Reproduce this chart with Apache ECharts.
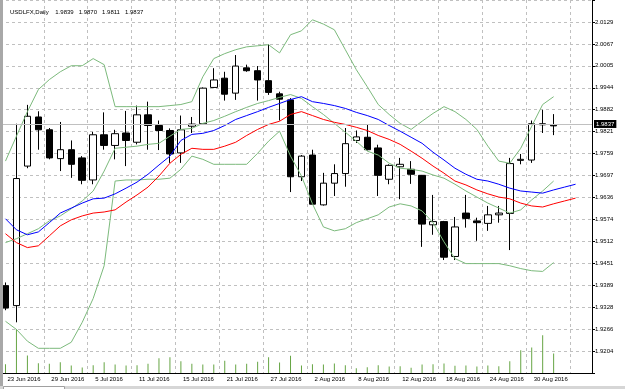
<!DOCTYPE html>
<html>
<head>
<meta charset="utf-8">
<script src="https://cdn.jsdelivr.net/npm/echarts@6/dist/echarts.min.js"></script>
<style>
  html, body { margin: 0; padding: 0; background: #fff; }
  #chart { width: 625px; height: 389px; }
</style>
</head>
<body>
<div id="chart"></div>
<script>
// USDLFX daily, 23 Jun 2016 - 1 Sep 2016 (last three dates are empty chart shift)
const symbol = "USDLFX,Daily";
const dates = [
  "23 Jun 2016", "24 Jun 2016", "27 Jun 2016", "28 Jun 2016", "29 Jun 2016", "30 Jun 2016",
  "1 Jul 2016", "4 Jul 2016", "5 Jul 2016", "6 Jul 2016", "7 Jul 2016", "8 Jul 2016",
  "11 Jul 2016", "12 Jul 2016", "13 Jul 2016", "14 Jul 2016", "15 Jul 2016", "18 Jul 2016",
  "19 Jul 2016", "20 Jul 2016", "21 Jul 2016", "22 Jul 2016", "25 Jul 2016", "26 Jul 2016",
  "27 Jul 2016", "28 Jul 2016", "29 Jul 2016", "1 Aug 2016", "2 Aug 2016", "3 Aug 2016",
  "4 Aug 2016", "5 Aug 2016", "8 Aug 2016", "9 Aug 2016", "10 Aug 2016", "11 Aug 2016",
  "12 Aug 2016", "15 Aug 2016", "16 Aug 2016", "17 Aug 2016", "18 Aug 2016", "19 Aug 2016",
  "22 Aug 2016", "23 Aug 2016", "24 Aug 2016", "25 Aug 2016", "26 Aug 2016", "29 Aug 2016",
  "30 Aug 2016", "31 Aug 2016", "1 Sep 2016", "2 Sep 2016", "5 Sep 2016", "6 Sep 2016"
];
const open = [1.9388, 1.9332, 1.9724, 1.9862, 1.9826, 1.9745, 1.9770, 1.9747, 1.9685, 1.9812,
  1.9782, 1.9817, 1.9791, 1.9868, 1.9838, 1.9824, 1.9761, 1.9836, 1.9843, 1.9945,
  1.9971, 1.9929, 2.0000, 1.9992, 1.9964, 1.9927, 1.9910, 1.9694, 1.9755, 1.9615,
  1.9676, 1.9703, 1.9796, 1.9805, 1.9775, 1.9687, 1.9722, 1.9715, 1.9698, 1.9559,
  1.9568, 1.9470, 1.9592, 1.9570, 1.9563, 1.9587, 1.9591, 1.9740, 1.9741, 1.9840, 1.9839];
const high = [1.9397, 1.9843, 1.9896, 1.9878, 1.9831, 1.9848, 1.9796, 1.9752, 1.9820, 1.9875,
  1.9826, 1.9879, 1.9894, 1.9905, 1.9852, 1.9830, 1.9866, 1.9862, 1.9945, 1.9999,
  1.9989, 2.0036, 2.0009, 2.0005, 2.0066, 1.9933, 1.9915, 1.9755, 1.9770, 1.9705,
  1.9729, 1.9831, 1.9824, 1.9841, 1.9784, 1.9729, 1.9747, 1.9738, 1.9699, 1.9643,
  1.9570, 1.9581, 1.9643, 1.9579, 1.9612, 1.9612, 1.9747, 1.9758, 1.9852, 1.9882, 1.9870];
const low = [1.9319, 1.9285, 1.9718, 1.9770, 1.9743, 1.9710, 1.9691, 1.9673, 1.9673, 1.9770,
  1.9743, 1.9724, 1.9785, 1.9770, 1.9769, 1.9733, 1.9733, 1.9817, 1.9841, 1.9943,
  1.9908, 1.9910, 1.9989, 1.9908, 1.9924, 1.9852, 1.9651, 1.9682, 1.9615, 1.9613,
  1.9640, 1.9666, 1.9789, 1.9768, 1.9640, 1.9673, 1.9631, 1.9674, 1.9497, 1.9531,
  1.9460, 1.9460, 1.9551, 1.9514, 1.9542, 1.9565, 1.9488, 1.9729, 1.9733, 1.9817, 1.9811];
const close = [1.9325, 1.9689, 1.9864, 1.9826, 1.9747, 1.9770, 1.9729, 1.9684, 1.9812, 1.9782,
  1.9815, 1.9796, 1.9868, 1.9838, 1.9824, 1.9758, 1.9826, 1.9842, 1.9943, 1.9966,
  1.9926, 2.0005, 1.9992, 1.9966, 1.9931, 1.9912, 1.9694, 1.9752, 1.9617, 1.9676,
  1.9703, 1.9787, 1.9806, 1.9770, 1.9698, 1.9726, 1.9729, 1.9701, 1.9561, 1.9568,
  1.9468, 1.9553, 1.9577, 1.9565, 1.9587, 1.9592, 1.9731, 1.9743, 1.9843, 1.9843, 1.9837];
const volume = [90, 444, 177, 100, 94, 110, 77, 57, 80, 110,
  87, 77, 80, 94, 150, 160, 120, 94, 87, 87,
  124, 87, 94, 114, 160, 107, 174, 77, 90, 87,
  97, 80, 50, 60, 80, 67, 70, 54, 87, 90,
  97, 74, 77, 67, 77, 70, 120, 230, 257, 380, 197];
const maBlue = [1.9576, 1.9545, 1.9531, 1.9539, 1.9565, 1.9592, 1.9606, 1.9620, 1.9632, 1.9634,
  1.9646, 1.9662, 1.9679, 1.9701, 1.9727, 1.9752, 1.9796, 1.9813, 1.9816, 1.9824,
  1.9838, 1.9855, 1.9866, 1.9877, 1.9889, 1.9900, 1.9911, 1.9919, 1.9905, 1.9900,
  1.9894, 1.9886, 1.9875, 1.9866, 1.9855, 1.9838, 1.9822, 1.9805, 1.9788, 1.9763,
  1.9741, 1.9718, 1.9701, 1.9687, 1.9682, 1.9673, 1.9662, 1.9654, 1.9651, 1.9648,
  1.9657, 1.9665, 1.9673];
const maRed = [1.9534, 1.9509, 1.9495, 1.9500, 1.9528, 1.9556, 1.9573, 1.9584, 1.9592, 1.9595,
  1.9601, 1.9623, 1.9643, 1.9665, 1.9696, 1.9732, 1.9757, 1.9774, 1.9771, 1.9771,
  1.9780, 1.9791, 1.9810, 1.9827, 1.9841, 1.9850, 1.9869, 1.9877, 1.9866, 1.9855,
  1.9847, 1.9841, 1.9833, 1.9824, 1.9810, 1.9799, 1.9785, 1.9766, 1.9746, 1.9724,
  1.9704, 1.9682, 1.9671, 1.9657, 1.9646, 1.9637, 1.9632, 1.9620, 1.9612, 1.9609,
  1.9618, 1.9626, 1.9634];
const bbUpper = [1.9738, 1.9808, 1.9877, 1.9939, 1.9967, 1.9989, 2.0006, 2.0006, 2.0026, 2.0009,
  1.9891, 1.9891, 1.9891, 1.9891, 1.9891, 1.9894, 1.9897, 1.9905, 1.9975, 2.0026,
  2.0040, 2.0051, 2.0059, 2.0062, 2.0065, 2.0042, 2.0093, 2.0104, 2.0135, 2.0123,
  2.0107, 2.0051, 1.9995, 1.9947, 1.9897, 1.9869, 1.9844, 1.9827, 1.9850, 1.9872,
  1.9891, 1.9877, 1.9855, 1.9827, 1.9780, 1.9738, 1.9732, 1.9774, 1.9836, 1.9897, 1.9919];
const bbMiddle = [1.9509, 1.9520, 1.9534, 1.9548, 1.9570, 1.9584, 1.9604, 1.9626, 1.9654, 1.9710,
  1.9774, 1.9777, 1.9780, 1.9785, 1.9788, 1.9808, 1.9827, 1.9830, 1.9844, 1.9852,
  1.9864, 1.9877, 1.9889, 1.9900, 1.9908, 1.9917, 1.9925, 1.9914, 1.9891, 1.9869,
  1.9844, 1.9819, 1.9794, 1.9766, 1.9755, 1.9732, 1.9718, 1.9715, 1.9710, 1.9699,
  1.9690, 1.9673, 1.9654, 1.9637, 1.9620, 1.9606, 1.9592, 1.9601, 1.9629, 1.9654, 1.9682];
const bbLower = [1.9288, 1.9265, 1.9232, 1.9212, 1.9212, 1.9212, 1.9229, 1.9285, 1.9352, 1.9444,
  1.9682, 1.9685, 1.9685, 1.9687, 1.9687, 1.9690, 1.9715, 1.9752, 1.9743, 1.9729,
  1.9729, 1.9729, 1.9729, 1.9760, 1.9794, 1.9822, 1.9752, 1.9696, 1.9618, 1.9553,
  1.9542, 1.9548, 1.9565, 1.9576, 1.9587, 1.9609, 1.9618, 1.9612, 1.9598, 1.9565,
  1.9511, 1.9464, 1.9450, 1.9450, 1.9450, 1.9450, 1.9444, 1.9436, 1.9430, 1.9428, 1.9453];
const yLabels = ["1.9204", "1.9266", "1.9328", "1.9389", "1.9451", "1.9512", "1.9574", "1.9636",
  "1.9697", "1.9759", "1.9821", "1.9882", "1.9944", "2.0005", "2.0067", "2.0129"];
const lastPrice = close[close.length - 1];

// price grid step of the terminal; the axis starts one step below the first label
const step = (2.0129 - 1.9204) / 15;
const base = 1.9204 - step;
const shift = v => (v == null ? null : +(v - base).toFixed(6));
const font = "Liberation Sans";
const gridColor = "#c0c0c0";

const ohlc = open.map((o, i) => [shift(o), shift(close[i]), shift(low[i]), shift(high[i])]);
const showTick = i => i % 4 === 0 && i < open.length;

function line(data, color) {
  return {
    type: "line",
    data: data.map(shift),
    symbol: "none",
    showSymbol: false,
    silent: true,
    lineStyle: { width: 1, color: color }
  };
}

const chart = echarts.init(document.getElementById("chart"));
chart.setOption({
  animation: false,
  backgroundColor: "#fff",
  title: {
    text: symbol + "    " + [open, high, low, close].map(a => a[a.length - 1].toFixed(4)).join("   "),
    left: 5,
    top: 4,
    textStyle: { fontSize: 6, fontWeight: "normal", color: "#000", fontFamily: font }
  },
  grid: { left: -2, right: 33, top: -2, height: 375.1 },
  xAxis: {
    type: "category",
    data: dates,
    boundaryGap: true,
    axisLine: { lineStyle: { color: "#000", width: 1 } },
    axisTick: { alignWithLabel: true, length: 4, interval: showTick, lineStyle: { color: "#000" } },
    axisLabel: {
      interval: showTick,
      align: "left",
      margin: 3,
      padding: [0, 0, 0, 2],
      fontSize: 6,
      color: "#000",
      fontFamily: font
    },
    splitLine: { show: true, interval: i => i % 4 === 0, lineStyle: { color: gridColor, type: [3, 3] } }
  },
  yAxis: [
    {
      type: "value",
      position: "right",
      min: 0,
      max: 17 * step,
      interval: step,
      axisLine: { show: true, lineStyle: { color: "#000" } },
      axisTick: { show: true, length: 3, lineStyle: { color: "#000" } },
      axisLabel: {
        margin: 3,
        fontSize: 6,
        color: "#000",
        fontFamily: font,
        formatter: v => {
          const k = Math.round(v / step);
          return k >= 1 && k <= 16 ? yLabels[k - 1] : "";
        }
      },
      splitLine: { lineStyle: { color: gridColor, type: [3, 3] } }
    },
    { type: "value", min: 0, max: 3751, show: false, splitLine: { show: false } }
  ],
  series: [
    {
      type: "bar",
      yAxisIndex: 1,
      data: volume,
      barWidth: 1,
      silent: true,
      itemStyle: { color: "#66a544" }
    },
    line(bbUpper, "#7cba7c"),
    line(bbMiddle, "#7cba7c"),
    line(bbLower, "#7cba7c"),
    line(maRed, "#ff0000"),
    line(maBlue, "#0000ff"),
    {
      type: "candlestick",
      data: ohlc,
      barWidth: 7,
      silent: true,
      itemStyle: {
        color: "#fff",
        color0: "#000",
        borderColor: "#000",
        borderColor0: "#000",
        borderWidth: 1
      },
      markLine: {
        silent: true,
        symbol: ["none", "none"],
        data: [{ yAxis: shift(lastPrice) }],
        lineStyle: { color: "#c0c0c0", type: "solid", width: 1 },
        label: {
          show: true,
          position: "end",
          distance: 2,
          formatter: lastPrice.toFixed(4),
          color: "#fff",
          backgroundColor: "#000",
          padding: [1, 2, 1, 2],
          fontSize: 6,
          fontFamily: font
        }
      }
    }
  ],
  graphic: [
    { type: "rect", left: 0, top: 0, shape: { width: 3, height: 389 }, style: { fill: "#a8a8a8" }, z: 100 },
    { type: "rect", left: 0, top: 386, shape: { width: 625, height: 3 }, style: { fill: "#d6d6d6" }, z: 100 },
    { type: "rect", left: 3, top: 386, shape: { width: 61, height: 3 }, style: { fill: "#fff", stroke: "#a0a0a0" }, z: 101 }
  ]
});
</script>
</body>
</html>
